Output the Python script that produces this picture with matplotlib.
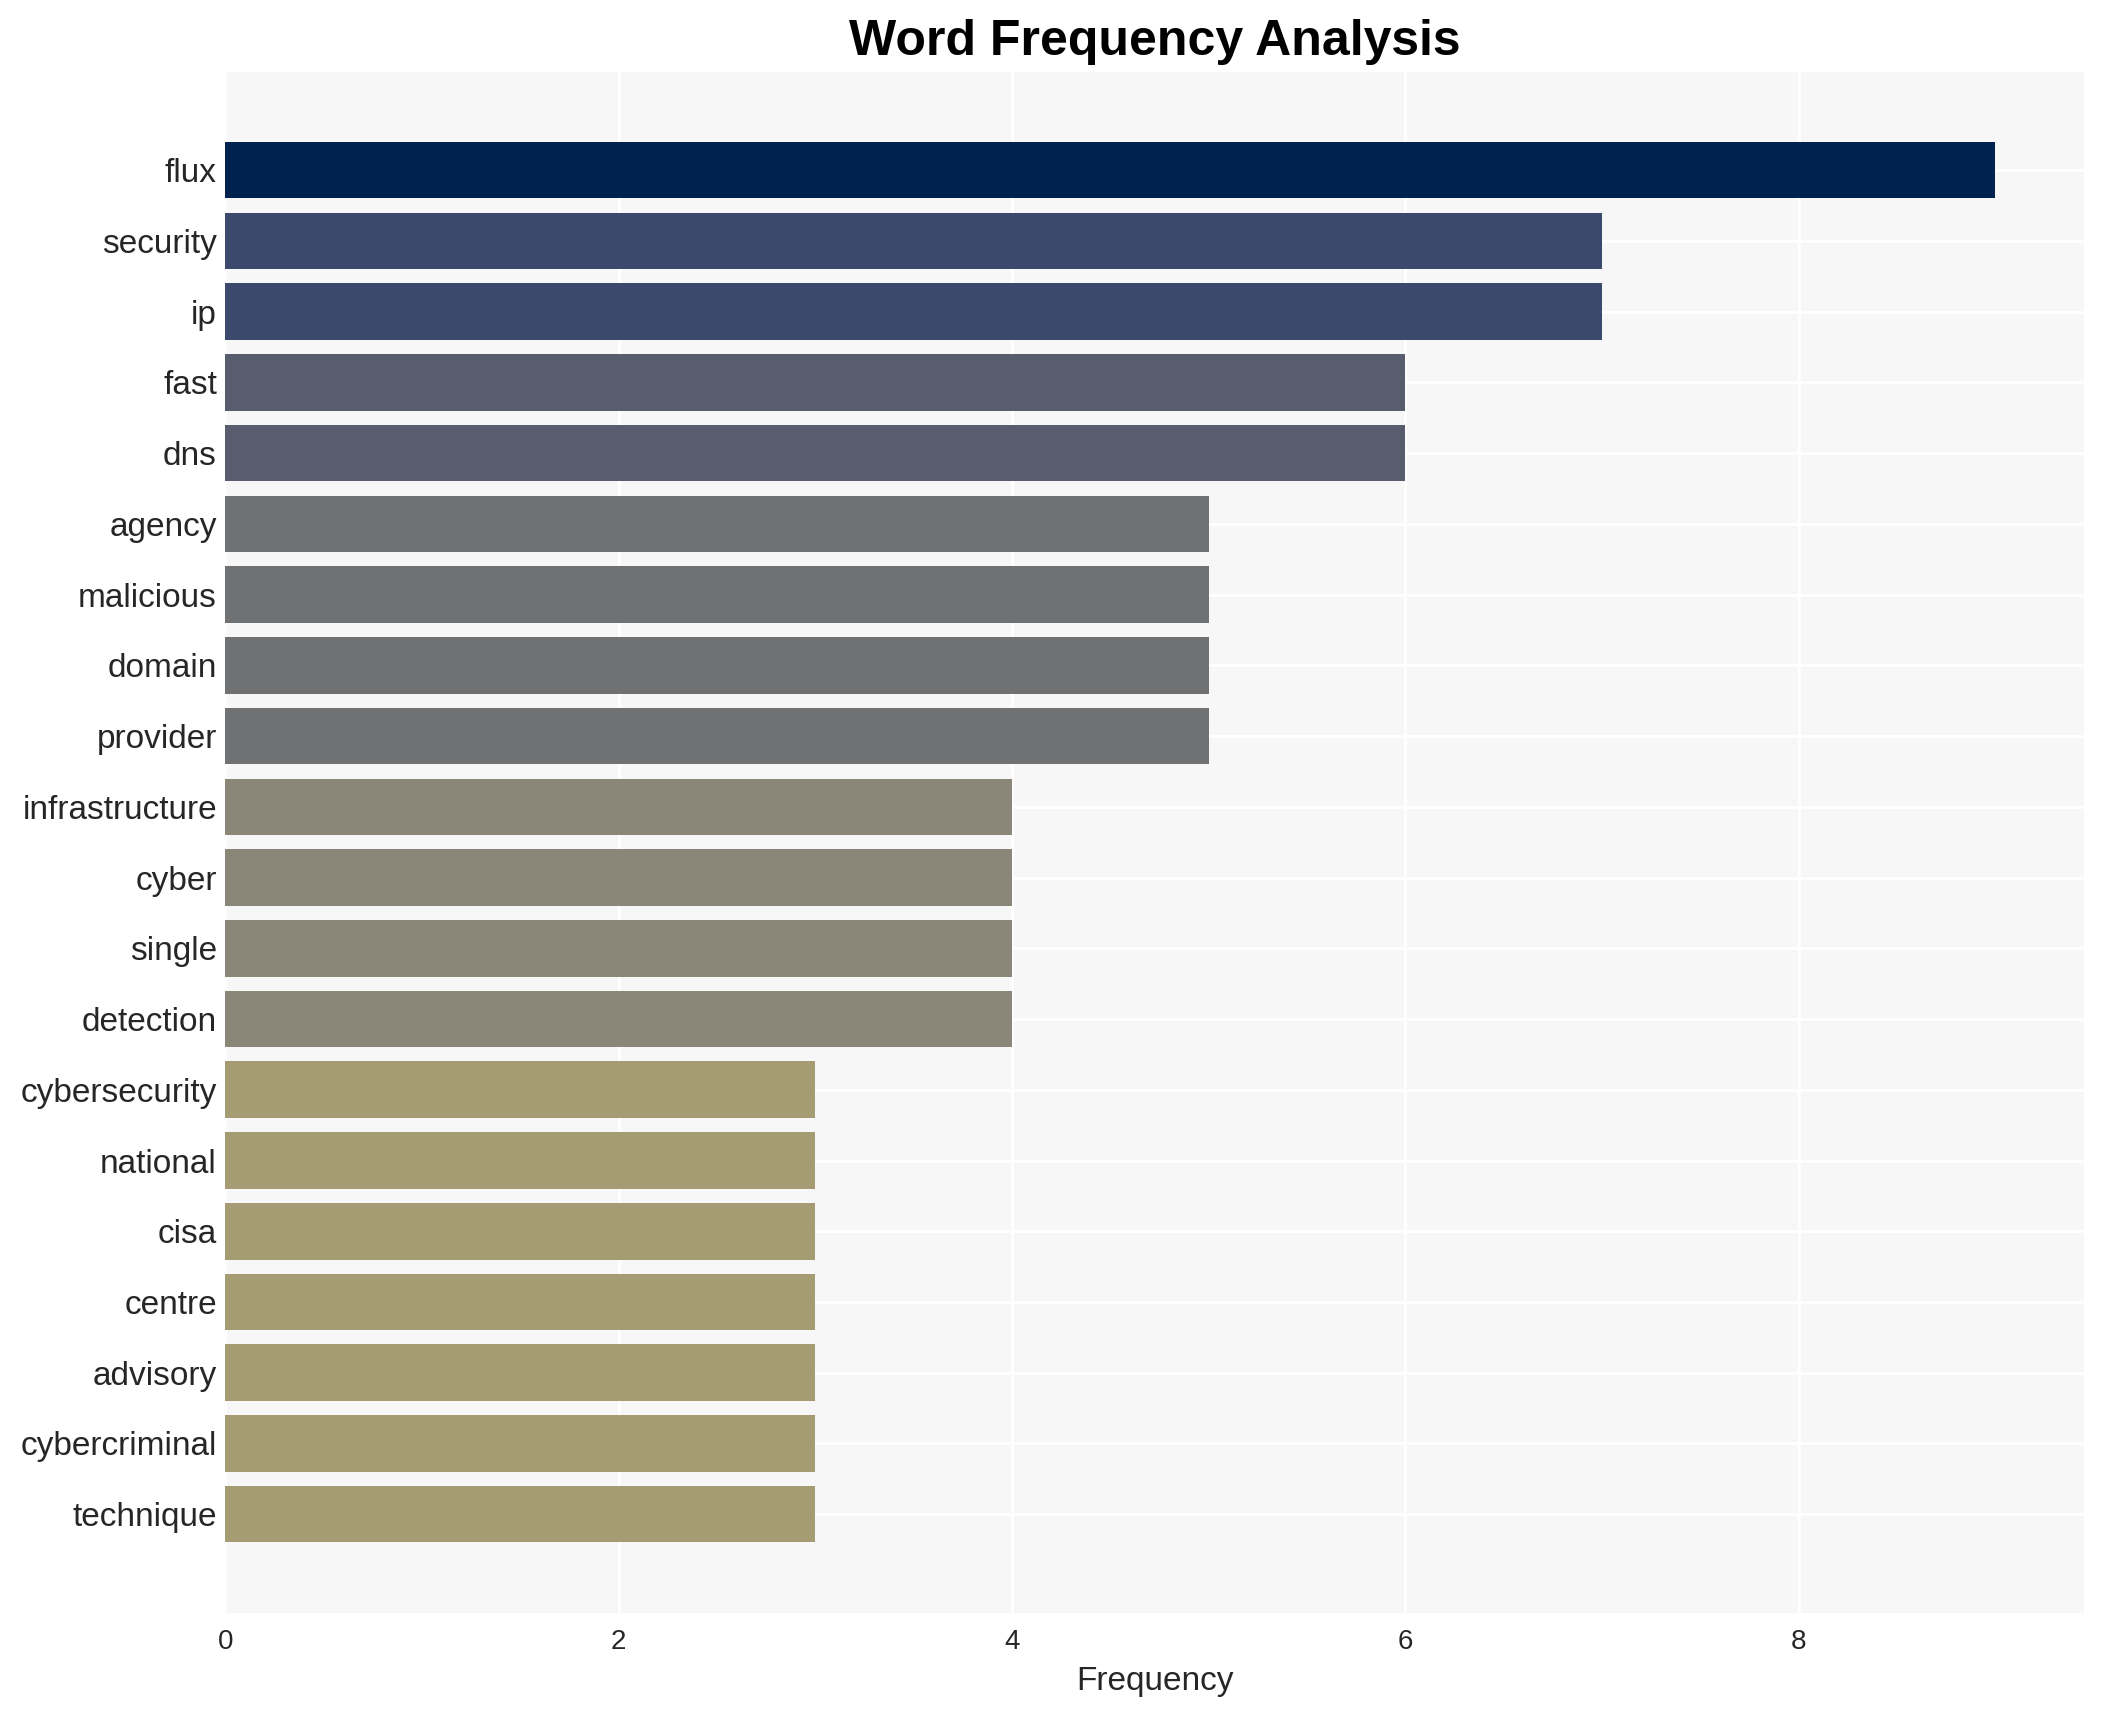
import matplotlib.pyplot as plt

# Datos
words = ["flux", "security", "ip", "fast", "dns", "agency", "malicious", "domain",
         "provider", "infrastructure", "cyber", "single", "detection", "cybersecurity",
         "national", "cisa", "centre", "advisory", "cybercriminal", "technique"]
counts = [9, 7, 7, 6, 6, 5, 5, 5, 5, 4, 4, 4, 4, 3, 3, 3, 3, 3, 3, 3]

# Colores por frecuencia
color_by_count = {9: "#00224e", 7: "#3b496c", 6: "#575d6d",
                  5: "#707173", 4: "#8a8678", 3: "#a59c74"}
colors = [color_by_count[c] for c in counts]

plt.rcParams['font.family'] = ['Liberation Sans', 'DejaVu Sans']
plt.rcParams['text.color'] = '#262626'

fig = plt.figure(figsize=(10.525, 8.55), dpi=200)
ax = fig.add_axes([0.107, 0.057, 0.883, 0.901])
ax.set_facecolor('#f7f7f7')

y = list(range(len(words)))
ax.barh(y, counts, height=0.8, color=colors, zorder=2)
ax.set_yticks(y)
ax.set_yticklabels(words)
ax.invert_yaxis()

ax.grid(True, color='white', linewidth=1.0, zorder=0)
ax.set_axisbelow(True)
for s in ax.spines.values():
    s.set_visible(False)
ax.tick_params(axis='both', length=0, colors='#262626')
ax.tick_params(axis='y', labelsize=12, pad=3)
ax.tick_params(axis='x', labelsize=10, pad=6)

ax.set_xlabel("Frequency", fontsize=12, color='#262626')
ax.set_title("Word Frequency Analysis", fontsize=18, fontweight='bold', color='black', pad=6)

plt.savefig("out.png")
